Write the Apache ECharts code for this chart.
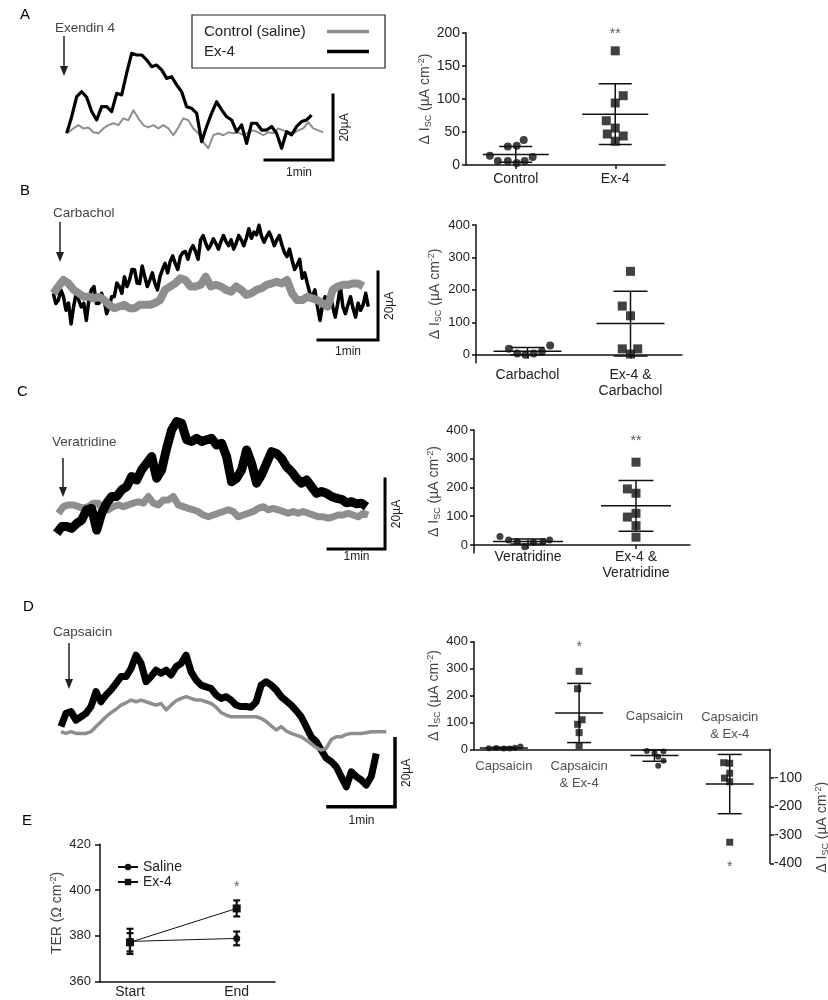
<!DOCTYPE html>
<html>
<head>
<meta charset="utf-8">
<script src="https://cdn.jsdelivr.net/npm/echarts@6/dist/echarts.min.js"></script>
<style>
html, body { margin: 0; padding: 0; background: #fff; }
#main { width: 828px; height: 1000px; }
</style>
</head>
<body>
<div id="main"></div>
<script>
var chart = echarts.init(document.getElementById('main'));

var FONT = '"Liberation Sans", Arial, Helvetica, sans-serif';
var INK = '#111', GREY = '#8e8e8e';

// ---- Isc traces, values in µA, sampled every `step` seconds ----
var aStep = 4.41, aCtrlStart = 1.5;
var aCtrl = [0.3,1.5,2.5,1.5,1.8,0.3,0,1.5,2.5,3.1,2.5,4.6,4.0,7.1,4.6,2.5,1.8,2.5,1.5,2.5,1.5,-0.6,1.8,4.6,4.0,1.5,0,-2.8,-4.6,-0.6,0,-0.6,0.3,0,0.3,-0.6,0.3,0.9,0.3,-0.6,0.3,0,1.5,0.9,0.3,0,0.9,1.5,3.4,1.5,0.9,0.3];
var aEx4 = [0,5.1,11.3,12.8,11.1,6.7,4.1,8.2,8.2,6.7,12.3,11.8,18.5,24.6,24.1,24.1,22.6,20.5,21.0,19.5,16.9,17.4,14.9,12.8,8.2,7.7,6.2,-2.6,2.1,6.2,9.7,7.2,5.1,4.1,0.5,2.6,-3.1,3.1,3.1,1.0,1.0,2.1,0,-4.6,0.5,-0.5,2.1,3.6,4.1,5.6];

var bStep = 5.08, bEx4Step = 2.54;
var bCtrl = [0,2,3.9,2.9,1,0,-1,-1,-1.5,-1,-2,-3.4,-4.4,-3.9,-3.4,-4.4,-4.4,-3.4,-3.4,-3.4,-2.9,-2,1,2,2.9,4.4,3.9,2,2,2.5,4.9,2,2.5,2,1,0.5,2,1,-0.5,0,1,1.5,2.5,2.9,3.4,2.9,3.9,0,-2,-2,-1,-1.5,-2,-2.9,-3.9,1,2,2.5,2.5,2.9,2.9,2];
var bEx4 = [0,-3,-2,1,-1,-5,-2.9,-9,-3.9,0,-2,-4,-2.9,-8,-2,1,2,-3,-2.9,0,-2,-6,-3.9,-1,-1,3,2,0,4.9,2,3.9,7,6.9,3,2.9,8,4.9,2,3.9,6,2.9,1,4.9,7,8.8,6,9.3,11,8.8,7,10.8,12,12.3,10,12.7,14,12.3,10,15.7,17,14.7,13,14.2,16,14.7,13,15.2,17,15.2,14,15.7,13,14.7,17,15.7,14,16.2,19,16.2,18,17.2,20,16.7,15,16.7,18,16.2,14,15.7,17,14.2,12,10.8,13,9.8,7,8.3,10,4.4,6,2.9,0,-1,1,-3.9,-8,-3.4,-1,-2,0,-3.9,-7,-2.9,2,-3.9,-6,-3.4,-1,-4.4,-7,-2.9,-5,-3.4,0,-3.9];

var cStep = 5.26, cCtrlStart = 1.75;
var cCtrl = [0,1.9,2.4,2.4,1.9,1.4,1.9,2.9,2.9,0.5,1.0,1.9,2.4,1.9,2.4,2.9,3.3,2.9,4.8,2.9,2.4,3.8,3.8,4.8,2.4,1.9,1.4,1.0,0.5,-0.5,-1.0,-0.5,0,0.5,1.0,0.5,-1.0,-0.5,0,0.5,1.4,1.9,1.0,1.4,1.0,0.5,0,0.5,0,0.5,0,-0.5,-1.0,-1.0,-1.4,-1.0,-0.5,-0.5,0,-0.5,-1.0,0,-0.5];
var cEx4 = [-5.7,-3.8,-3.8,-4.3,-2.9,-1.9,1.0,1.4,-4.8,0,2.9,4.8,4.8,6.7,7.6,10.5,9.5,12.4,14.3,16.2,10.0,12.4,18.6,23.8,26.2,25.7,21.0,20.5,21.4,20.5,21.0,21.4,19.5,20.0,16.2,9.0,10.0,12.4,18.1,14.3,8.6,11.0,14.3,17.6,17.1,15.7,13.3,11.9,10.0,8.6,9.5,7.6,5.7,6.2,5.7,4.8,4.3,4.0,3.0,3.3,2.7,2.9,1.9];

var dStep = 4.48;
var dCtrl = [0,-0.5,0,-0.5,-0.5,-0.5,0,1.5,2.9,4.4,5.6,6.6,7.8,8.5,9.3,8.8,9.3,8.8,8.3,7.8,8.3,6.4,7.8,9.1,9.8,10.3,9.8,9.3,9.3,8.8,8.3,7.2,5.6,4.9,4.4,4.4,4.4,4.4,4.4,4.4,3.9,3.0,1.7,0.5,1.5,0.2,-0.5,-1.0,-1.5,-2.5,-3.6,-4.7,-5.4,-4.9,-2.3,-1.5,-1.5,-0.8,-0.5,-0.5,-0.5,-0.3,0,0,0,0];
var dEx4 = [1.5,5.4,5.9,3.4,4.4,5.4,7.4,11.8,8.8,10.8,12.3,14.2,16.2,16.2,18.6,22.5,20.1,14.7,16.2,18.1,17.2,18.1,16.7,19.1,20.1,22.5,17.6,15.2,13.7,13.2,12.7,10.8,9.8,10.3,9.3,7.8,7.4,7.4,7.2,8.8,13.7,14.7,13.7,12.3,10.3,9.1,7.8,6.2,4.4,1.5,-1.5,-2.9,-5.4,-7.8,-8.8,-10.3,-13.2,-16.2,-11.8,-13.2,-14.2,-15.7,-13.2,-6.4];

// scale bar corner (s, µA): 60 s horizontal, 20 µA vertical
var scaleBars = [{t: 235, v: -8.2, gap: 7}, {t: 324.7, v: -13.7, gap: 6}, {t: 345.6, v: -10.2, gap: 2}, {t: 299, v: -22.1, gap: 8}];

// ---- delta Isc scatter panels (µA cm-2) ----
var aCats = ['Control', 'Ex-4'];
var aCtrlPts = [14, 28, 29, 38, 6, 6, 3, 6, 12];
var aEx4Pts = [173, 105, 94, 67, 56, 47, 44, 36];
var aMean = [16, 77], aSd = [12, 46];
var aCtrlJit = [-0.26, -0.08, 0.01, 0.08, -0.18, -0.08, 0.01, 0.09, 0.17];
var aEx4Jit = [0, 0.08, 0, -0.09, 0, -0.08, 0.08, 0];

var bCats = ['Carbachol', 'Ex-4 &\nCarbachol'];
var bCarbPts = [18, 4, 0, 4, 10, 28];
var bEx4Pts = [257, 150, 120, 18, 18, 2];
var bMean = [11, 96], bSd = [11, 100];
var bCarbJit = [-0.18, -0.1, -0.02, 0.06, 0.14, 0.22];
var bEx4Jit = [0, -0.08, 0, -0.08, 0.07, 0];

var cCats = ['Veratridine', 'Ex-4 &\nVeratridine'];
var cVerPts = [29, 17, 12, -6, 9, 12, 17];
var cEx4Pts = [288, 195, 180, 97, 110, 67, 27];
var cMean = [12, 136], cSd = [9, 88];
var cVerJit = [-0.26, -0.18, -0.1, -0.03, 0.05, 0.14, 0.2];
var cEx4Jit = [0, -0.08, 0, -0.08, 0, 0, 0];

var dCats = ['Capsaicin', 'Capsaicin\n& Ex-4', 'Capsaicin', 'Capsaicin\n& Ex-4'];
var dCapPts = [4, 5, 3, 3, 6, 10];
var dCapEx4Pts = [290, 225, 110, 93, 62, 13];
var dCap2Pts = [-6, -12, -8, -26, -40, -58];
var dCap2Ex4Pts = [-47, -49, -84, -101, -114, -326];
var dMean = [5, 135, -22, -122], dSd = [3, 110, 20, 104];
var dCapJit = [-0.2, -0.1, 0, 0.08, 0.15, 0.22];
var dCapEx4Jit = [0, -0.02, 0.04, -0.02, 0, 0];
var dCap2Jit = [-0.1, 0, 0.12, 0.05, 0.12, 0.05];
var dCap2Ex4Jit = [-0.08, 0, 0, -0.07, 0, 0];

// ---- TER panel (Ω cm-2) ----
var eCats = ['Start', 'End'];
var eSaline = [377.6, 378.9], eSalineSd = [5.5, 3];
var eEx4 = [377.2, 392], eEx4Sd = [4, 3.5];

var RICH = {
  s: {fontSize: 9, fontFamily: FONT, color: '#444', verticalAlign: 'bottom'},
  p: {fontSize: 9, fontFamily: FONT, color: '#444', verticalAlign: 'top'}
};
var ISC = '\u0394 I{s|SC} (\u00b5A cm{p|-2})';

function trace(name, gi, start, step, vals, color, width, z) {
  return {
    name: name, type: 'line', xAxisIndex: gi, yAxisIndex: gi, z: z,
    data: vals.map(function (v, i) { return [start + i * step, v]; }),
    showSymbol: false, symbol: 'none', silent: true,
    itemStyle: {color: color}, lineStyle: {color: color, width: width, join: 'round'}
  };
}

function scaleBar(gi, sb, w) {
  return {
    type: 'line', xAxisIndex: gi, yAxisIndex: gi, z: 6, symbol: 'none', silent: true,
    data: [[sb.t - 60, sb.v], [sb.t, sb.v], [sb.t, sb.v + 20]],
    lineStyle: {color: '#000', width: w, join: 'miter', cap: 'square'}
  };
}

function traceAxes(gi, x0, x1, y0, y1) {
  return {
    x: {type: 'value', gridIndex: gi, min: x0, max: x1, show: false},
    y: {type: 'value', gridIndex: gi, min: y0, max: y1, show: false}
  };
}

function catX(gi, cats, margin) {
  return {
    type: 'category', gridIndex: gi, data: cats, position: 'bottom',
    axisLine: {show: true, onZero: true, lineStyle: {color: INK, width: 1.5}},
    axisTick: {show: true, alignWithLabel: true, length: 4, lineStyle: {color: INK, width: 1.5}},
    axisLabel: {interval: 0, color: '#222', fontSize: 14, fontFamily: FONT, margin: margin, lineHeight: 16},
    splitLine: {show: false}
  };
}

function valY(gi, min, max, ticks, name, gap, fs, pos, margin) {
  return {
    type: 'value', gridIndex: gi, min: min, max: max, position: pos || 'left',
    splitLine: {show: false},
    axisLine: {show: true, onZero: false, lineStyle: {color: INK, width: 1.5}},
    axisTick: {show: true, length: 4, customValues: ticks, lineStyle: {color: INK, width: 1.5}},
    axisLabel: {customValues: ticks, color: '#222', fontSize: fs, fontFamily: FONT, margin: margin || 6},
    name: name, nameLocation: 'middle', nameRotate: 90, nameGap: gap,
    nameTextStyle: {color: '#444', fontSize: 14, fontFamily: FONT, lineHeight: 16, rich: RICH}
  };
}

function dots(xi, yi, vals, jit, pos, sym, size) {
  return {
    type: 'scatter', xAxisIndex: xi, yAxisIndex: yi, symbol: sym, symbolSize: size,
    itemStyle: {color: INK}, z: 4, silent: true, clip: false,
    data: vals.map(function (v, k) { return [pos + jit[k], v]; })
  };
}

function errBars(xi, yi, pos, means, sds, halfMean, halfCap, lw) {
  return {
    type: 'custom', xAxisIndex: xi, yAxisIndex: yi, z: 5, silent: true, clip: false,
    data: means.map(function (m, k) { return [pos[k], m, sds[k]]; }),
    encode: {x: 0, y: 1},
    renderItem: function (params, api) {
      var x = api.value(0), m = api.value(1), s = api.value(2);
      var c = api.coord([x, m]), hi = api.coord([x, m + s]), lo = api.coord([x, m - s]);
      var st = {stroke: INK, lineWidth: lw};
      var kids = [
        {type: 'line', shape: {x1: hi[0], y1: hi[1], x2: lo[0], y2: lo[1]}, style: st},
        {type: 'line', shape: {x1: hi[0] - halfCap, y1: hi[1], x2: hi[0] + halfCap, y2: hi[1]}, style: st},
        {type: 'line', shape: {x1: lo[0] - halfCap, y1: lo[1], x2: lo[0] + halfCap, y2: lo[1]}, style: st}
      ];
      if (halfMean > 0) {
        kids.push({type: 'line', shape: {x1: c[0] - halfMean, y1: c[1], x2: c[0] + halfMean, y2: c[1]}, style: st});
      }
      return {type: 'group', children: kids};
    }
  };
}

function stars(xi, yi, x, v, text) {
  return {
    type: 'scatter', xAxisIndex: xi, yAxisIndex: yi, symbolSize: 0, silent: true, clip: false, z: 6,
    data: [[x, v]],
    label: {show: true, position: 'inside', formatter: text, color: '#333', fontSize: 14, fontFamily: FONT, offset: [0, 4]}
  };
}

var tA = traceAxes(0, -6, 250, -14, 28);
var tB = traceAxes(1, -5, 335, -16, 24);
var tC = traceAxes(2, -5, 360, -14, 30);
var tD = traceAxes(3, -5, 310, -25, 25);

var grids = [
  {left: 59.9, top: 42.3, width: 290.1, height: 136.5},
  {left: 48.3, top: 211.7, width: 340, height: 136},
  {left: 51.95, top: 408.3, width: 346.75, height: 154},
  {left: 55.4, top: 646.7, width: 351.9, height: 170},
  {left: 466, top: 33, width: 199, height: 132},
  {left: 476, top: 225, width: 206, height: 137.8},
  {left: 474, top: 430, width: 216, height: 123},
  {left: 474, top: 641.7, width: 296, height: 107.6},
  {left: 474, top: 749.3, width: 296, height: 114},
  {left: 100, top: 844.3, width: 175, height: 137.4}
].map(function (g) { g.outerBoundsMode = 'none'; g.containLabel = false; return g; });

var dMin = -0.396, dMax = 3.535;

var xAxes = [
  tA.x, tB.x, tC.x, tD.x,
  catX(4, aCats, 6), {type: 'value', gridIndex: 4, min: -0.5, max: 1.5, show: false},
  catX(5, bCats, 4), {type: 'value', gridIndex: 5, min: -0.5, max: 1.5, show: false},
  catX(6, cCats, -4), {type: 'value', gridIndex: 6, min: -0.5, max: 1.5, show: false},
  {type: 'value', gridIndex: 7, min: dMin, max: dMax, splitLine: {show: false},
    axisLine: {show: true, onZero: true, lineStyle: {color: INK, width: 1.5}},
    axisTick: {show: false}, axisLabel: {show: false}},
  {type: 'value', gridIndex: 8, min: dMin, max: dMax, show: false},
  {type: 'value', gridIndex: 9, min: -0.281, max: 1.359, splitLine: {show: false},
    axisLine: {show: true, onZero: false, lineStyle: {color: INK, width: 1.5}},
    axisTick: {show: false},
    axisLabel: {customValues: [0, 1], color: '#222', fontSize: 14, fontFamily: FONT, margin: 3,
      formatter: function (v) { return eCats[Math.round(v)]; }}}
];

var yAxes = [
  tA.y, tB.y, tC.y, tD.y,
  valY(4, 0, 200, [0, 50, 100, 150, 200], ISC, 31, 14),
  valY(5, -25, 400, [0, 100, 200, 300, 400], ISC, 33, 13),
  valY(6, -28, 400, [0, 100, 200, 300, 400], ISC, 32, 13),
  valY(7, 0, 400, [0, 100, 200, 300, 400], ISC, 28, 13),
  valY(8, -400, 0, [-100, -200, -300, -400], ISC, 44, 14, 'right', 4),
  valY(9, 360, 420, [360, 380, 400, 420], 'TER (\u03a9 cm{p|-2})', 32, 13, 'left', 9)
];
yAxes[9].axisTick.length = 5;
// right-hand name sits a little below the middle of its axis
yAxes[8].nameTextStyle.padding = [0, 42, 0, 0];

var series = [
  // panel E first so its legend picks these styles
  {name: 'Saline', type: 'line', xAxisIndex: 12, yAxisIndex: 9, symbol: 'circle', symbolSize: 7,
    data: eSaline.map(function (v, i) { return [i, v]; }), silent: true, z: 4,
    itemStyle: {color: INK}, lineStyle: {color: INK, width: 1}},
  {name: 'Ex-4', type: 'line', xAxisIndex: 12, yAxisIndex: 9, symbol: 'rect', symbolSize: 8,
    data: eEx4.map(function (v, i) { return [i, v]; }), silent: true, z: 4,
    itemStyle: {color: INK}, lineStyle: {color: INK, width: 1}},
  errBars(12, 9, [0, 1, 0, 1], eSaline.concat(eEx4), eSalineSd.concat(eEx4Sd), 0, 3.5, 2.2),
  stars(12, 9, 1, 403, '*'),

  // traces
  trace('Control (saline)', 0, aCtrlStart, aStep, aCtrl, GREY, 2, 2),
  trace('Ex-4', 0, 0, aStep, aEx4, '#000', 3.2, 3),
  trace('Ex-4', 1, 0, bEx4Step, bEx4, '#000', 3.5, 2),
  trace('Control (saline)', 1, 0, bStep, bCtrl, GREY, 8, 3),
  trace('Control (saline)', 2, cCtrlStart, cStep, cCtrl, GREY, 7, 2),
  trace('Ex-4', 2, 0, cStep, cEx4, '#000', 9, 3),
  trace('Ex-4', 3, 0, dStep, dEx4, '#000', 7, 2),
  trace('Control (saline)', 3, 0, dStep, dCtrl, GREY, 3.5, 3),
  scaleBar(0, scaleBars[0], 3), scaleBar(1, scaleBars[1], 3),
  scaleBar(2, scaleBars[2], 3), scaleBar(3, scaleBars[3], 3.5),

  // A
  dots(5, 4, aCtrlPts, aCtrlJit, 0, 'circle', 8),
  dots(5, 4, aEx4Pts, aEx4Jit, 1, 'rect', 9),
  errBars(5, 4, [0, 1], aMean, aSd, 33, 16.5, 1.5),
  stars(5, 4, 1, 205, '**'),
  // B
  dots(7, 5, bCarbPts, bCarbJit, 0, 'circle', 8),
  dots(7, 5, bEx4Pts, bEx4Jit, 1, 'rect', 9),
  errBars(7, 5, [0, 1], bMean, bSd, 34, 17, 1.5),
  // C
  dots(9, 6, cVerPts, cVerJit, 0, 'circle', 7),
  dots(9, 6, cEx4Pts, cEx4Jit, 1, 'rect', 9),
  errBars(9, 6, [0, 1], cMean, cSd, 35, 17.5, 1.5),
  stars(9, 6, 1, 375, '**'),
  // D
  dots(10, 7, dCapPts, dCapJit, 0, 'circle', 6),
  dots(10, 7, dCapEx4Pts, dCapEx4Jit, 1, 'rect', 7),
  dots(11, 8, dCap2Pts, dCap2Jit, 2, 'circle', 6),
  dots(11, 8, dCap2Ex4Pts, dCap2Ex4Jit, 3, 'rect', 7),
  errBars(10, 7, [0, 1], dMean.slice(0, 2), dSd.slice(0, 2), 24, 12, 1.5),
  errBars(11, 8, [2, 3], dMean.slice(2), dSd.slice(2), 24, 12, 1.5),
  stars(10, 7, 1, 394, '*'),
  stars(11, 8, 3, -400, '*'),
  {type: 'scatter', xAxisIndex: 10, yAxisIndex: 7, symbolSize: 0, silent: true, clip: false, z: 6,
    data: [
      {value: [0, 0], label: {position: 'bottom', distance: 9}},
      {value: [1, 0], label: {position: 'bottom', distance: 9}},
      {value: [2, 0], label: {position: 'top', distance: 24}},
      {value: [3, 0], label: {position: 'top', distance: 6}}
    ],
    label: {show: true, color: '#222', fontSize: 13, fontFamily: FONT, lineHeight: 17,
      formatter: function (p) { return dCats[p.dataIndex]; }}}
];

var option = {
  animation: false,
  backgroundColor: '#fff',
  textStyle: {fontFamily: FONT},
  grid: grids,
  xAxis: xAxes,
  yAxis: yAxes,
  legend: [
    {
      data: [
        {name: 'Control (saline)', icon: 'rect', itemStyle: {color: GREY}},
        {name: 'Ex-4', icon: 'rect', itemStyle: {color: '#000'}}
      ],
      orient: 'vertical', align: 'right', left: 192, top: 15,
      padding: [9, 16, 9, 12], itemGap: 5, itemWidth: 42, itemHeight: 3.5,
      borderColor: '#222', borderWidth: 1.2, selectedMode: false,
      formatter: function (n) { return '{t|' + n + '}'; },
      textStyle: {rich: {t: {width: 118, align: 'left', fontSize: 15, fontFamily: FONT, color: '#222', lineHeight: 17}}}
    },
    {
      data: ['Saline', 'Ex-4'], orient: 'vertical', left: 112, top: 855,
      itemWidth: 20, itemHeight: 8, itemGap: 1, selectedMode: false,
      textStyle: {fontSize: 14, fontFamily: FONT, color: '#222'}
    }
  ],
  series: series
};

chart.setOption(option);

// annotations: panel letters, drug-addition arrows, scale bar labels
var g = [];
[['A', 20, 15], ['B', 20, 191], ['C', 17, 392], ['D', 23, 607], ['E', 22, 821]].forEach(function (l) {
  g.push({type: 'text', x: l[1], y: l[2], style: {text: l[0], fontSize: 15, fontFamily: FONT, fill: '#000', verticalAlign: 'middle'}});
});
[['Exendin 4', 55, 28, 64, 36, 76], ['Carbachol', 53, 213, 60, 222, 262],
 ['Veratridine', 52, 442, 63, 458, 497], ['Capsaicin', 53, 632, 69, 643, 689]].forEach(function (a) {
  g.push({type: 'text', x: a[1], y: a[2], style: {text: a[0], fontSize: 13.5, fontFamily: FONT, fill: '#444', verticalAlign: 'middle'}});
  g.push({type: 'line', shape: {x1: a[3], y1: a[4], x2: a[3], y2: a[5] - 8}, style: {stroke: '#222', lineWidth: 1.5}});
  g.push({type: 'polygon', shape: {points: [[a[3] - 4, a[5] - 10], [a[3] + 4, a[5] - 10], [a[3], a[5]]]}, style: {fill: '#222'}});
});
scaleBars.forEach(function (sb, i) {
  var corner = chart.convertToPixel({xAxisIndex: i, yAxisIndex: i}, [sb.t, sb.v]);
  var left = chart.convertToPixel({xAxisIndex: i, yAxisIndex: i}, [sb.t - 60, sb.v]);
  var top = chart.convertToPixel({xAxisIndex: i, yAxisIndex: i}, [sb.t, sb.v + 20]);
  g.push({type: 'text', x: (left[0] + corner[0]) / 2, y: corner[1] + sb.gap,
    style: {text: '1min', fontSize: 12, fontFamily: FONT, fill: '#222', align: 'center', verticalAlign: 'top'}});
  g.push({type: 'text', x: corner[0] + 12, y: (corner[1] + top[1]) / 2, rotation: Math.PI / 2,
    style: {text: '20\u00b5A', fontSize: 12, fontFamily: FONT, fill: '#222', align: 'center', verticalAlign: 'middle'}});
});
chart.setOption({graphic: g});

window.onresize = chart.resize;
</script>
</body>
</html>
